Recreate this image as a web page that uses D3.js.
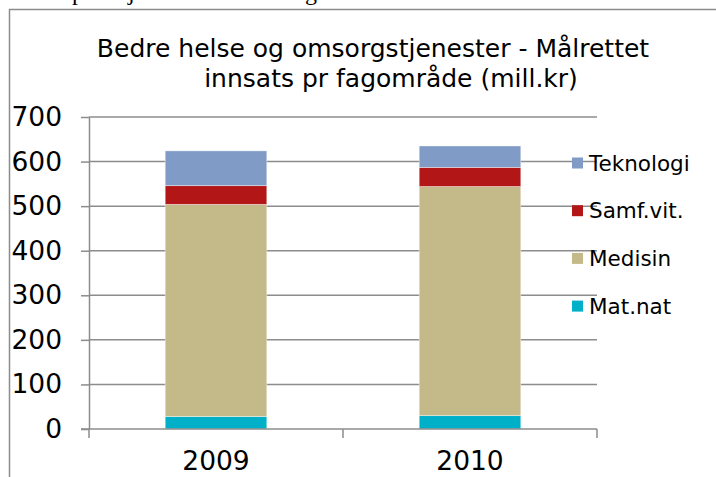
<!DOCTYPE html>
<html><head><meta charset="utf-8">
<script src="https://cdn.jsdelivr.net/npm/d3@7"></script>
<style>html,body{margin:0;padding:0;background:#fff;}svg{display:block;}</style>
</head><body>
<script>
const years = ["2009", "2010"];
const seriesNames = ["Mat.nat", "Medisin", "Samf.vit.", "Teknologi"];
const matnat = [28, 30];
const medisin = [476, 514];
const samfvit = [42, 43];
const teknologi = [78, 48];
const yTicks = [0, 100, 200, 300, 400, 500, 600, 700];
const colors = ["#00B0C8", "#C4BA89", "#B31616", "#7F9BC6"];
const titleLines = ["Bedre helse og omsorgstjenester - Målrettet", "innsats pr fagområde (mill.kr)"];

const W = 716, H = 477;
const svg = d3.select("body").append("svg").attr("width", W).attr("height", H);
const font = "DejaVu Sans, Verdana, sans-serif";

// cut-off text line above the chart frame
const above = svg.append("text").attr("font-family", "Liberation Serif, Times New Roman, serif")
  .attr("font-size", 24).attr("fill", "#000").attr("y", 0);
[["p", 72], ["j", 128], ["g", 305]].forEach(([c, x]) => above.append("tspan").attr("x", x).text(c));

// frame
svg.append("path").attr("d", `M9.5,${H} V9.5 H${W}`).attr("fill", "none").attr("stroke", "#8c8c8c").attr("stroke-width", 1.5);

// title
const titleX = [373, 391];
svg.append("g").selectAll("text").data(titleLines).join("text")
  .attr("x", (d, i) => titleX[i]).attr("y", (d, i) => 57 + i * 30)
  .attr("text-anchor", "middle").attr("font-family", font).attr("font-size", 25)
  .attr("fill", "#000").text(d => d);

const x0 = 89, x1 = 597, yTop = 117, yBot = 429;
const x = d3.scaleBand().domain(years).range([x0, x1]).paddingInner(0.6).paddingOuter(0.3);
const y = d3.scaleLinear().domain([0, 700]).range([yBot, yTop]);

// gridlines
svg.append("g").selectAll("line").data(yTicks.filter(d => d > 0)).join("line")
  .attr("x1", x0).attr("x2", x1).attr("y1", d => y(d)).attr("y2", d => y(d))
  .attr("stroke", "#8c8c8c").attr("stroke-width", 1.5);

// y axis
const yAxis = d3.axisLeft(y).tickValues(yTicks).tickSize(8).tickPadding(19).tickSizeOuter(0);
const gy = svg.append("g").attr("transform", `translate(${x0},0)`).call(yAxis);
gy.select(".domain").attr("stroke", "#8c8c8c").attr("stroke-width", 1.5);
gy.selectAll(".tick line").attr("stroke", "#8c8c8c").attr("stroke-width", 1.5);
gy.selectAll(".tick text").attr("font-family", font).attr("font-size", 26.5).attr("fill", "#000");

// stacked bars
const table = years.map((yr, i) => ({year: yr, "Mat.nat": matnat[i], "Medisin": medisin[i], "Samf.vit.": samfvit[i], "Teknologi": teknologi[i]}));
const stack = d3.stack().keys(seriesNames)(table);
svg.append("g").selectAll("g").data(stack).join("g").attr("fill", (d, i) => colors[i])
  .selectAll("rect").data(d => d).join("rect")
  .attr("x", d => x(d.data.year)).attr("width", x.bandwidth())
  .attr("y", d => y(d[1])).attr("height", d => y(d[0]) - y(d[1]))
  .attr("stroke", "rgba(255,255,255,0.5)").attr("stroke-width", 0.8);

// x axis
const xs = d3.scaleLinear().domain([0, 2]).range([x0, x1]);
const gx = svg.append("g").attr("transform", `translate(0,${yBot})`);
gx.append("line").attr("x1", x0 - 8).attr("x2", x1).attr("stroke", "#8c8c8c").attr("stroke-width", 1.5);
gx.selectAll(".tk").data([0, 1, 2]).join("line").attr("class", "tk")
  .attr("x1", d => xs(d)).attr("x2", d => xs(d)).attr("y1", 0).attr("y2", 9)
  .attr("stroke", "#8c8c8c").attr("stroke-width", 1.5);
gx.selectAll("text").data(years).join("text")
  .attr("x", d => x(d) + x.bandwidth() / 2).attr("y", 41)
  .attr("text-anchor", "middle").attr("font-family", font).attr("font-size", 26.5).attr("fill", "#000")
  .text(d => d);

// legend
const legendOrder = [3, 2, 1, 0];
const lg = svg.append("g").selectAll("g").data(legendOrder).join("g")
  .attr("transform", (d, i) => `translate(572,${163 + i * 47.7})`);
lg.append("rect").attr("x", 0).attr("y", -5.5).attr("width", 11).attr("height", 11).attr("fill", d => colors[d]);
lg.append("text").attr("x", 17).attr("y", 0).attr("dy", "0.35em")
  .attr("font-family", font).attr("font-size", 21.5).attr("fill", "#000").text(d => seriesNames[d]);
</script>
</body></html>
